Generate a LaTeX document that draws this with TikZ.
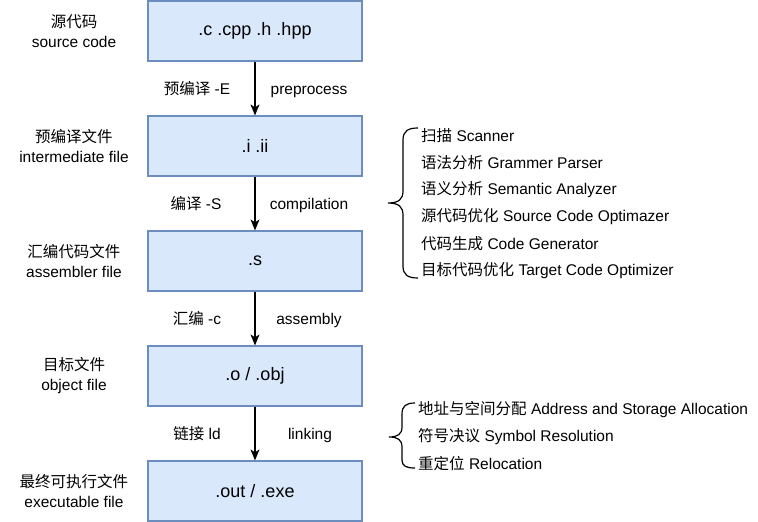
\documentclass[tikz,border=0pt]{standalone}
\usepackage{fontspec}
\setmainfont{Liberation Sans}
\newfontfamily\cjk{Noto Sans CJK SC}
\newcommand{\zh}[1]{{\cjk #1}}
\usetikzlibrary{arrows.meta}
\definecolor{boxfill}{HTML}{DAE8FC}
\definecolor{boxline}{HTML}{6C8EBF}
\begin{document}
\begin{tikzpicture}[x=1pt,y=-1pt,
  box/.style={draw=boxline,fill=boxfill,line width=1.2pt,minimum width=214pt,minimum height=60pt,inner sep=0pt,font=\fontsize{18}{22}\selectfont},
  side/.style={align=center,inner sep=0pt,font=\fontsize{15.5}{20}\selectfont},
  lbl/.style={inner sep=0pt,text height=13.5pt,text depth=2pt,font=\fontsize{15.5}{19}\selectfont},
  item/.style={anchor=west,inner sep=0pt,font=\fontsize{15.5}{19}\selectfont},
  arr/.style={line width=1.2pt,-{Stealth[length=11pt,width=9pt,inset=3pt]}}]
\useasboundingbox (0,0) rectangle (758,522);
\node[box] (src) at (255,31) {.c .cpp .h .hpp};
\node[box] (pre) at (255,146) {.i .ii};
\node[box] (asm) at (255,261) {.s};
\node[box] (obj) at (255,376) {.o / .obj};
\node[box] (exe) at (255,491) {.out / .exe};
\node[side] (srcname) at (74,31) {\zh{源代码}\\source code};
\node[side] (prename) at (74,146) {\zh{预编译文件}\\intermediate file};
\node[side] (asmname) at (74,261) {\zh{汇编代码文件}\\assembler file};
\node[side] (objname) at (74,376) {\zh{目标文件}\\object file};
\node[side] (exename) at (74,491) {\zh{最终可执行文件}\\executable file};
\draw[arr] (src) -- node[lbl,xshift=-58pt] {\zh{预编译} -E} node[lbl,xshift=54pt] {preprocess} (pre);
\draw[arr] (pre) -- node[lbl,xshift=-59pt] {\zh{编译} -S} node[lbl,xshift=54pt] {compilation} (asm);
\draw[arr] (asm) -- node[lbl,xshift=-58pt] {\zh{汇编} -c} node[lbl,xshift=54pt] {assembly} (obj);
\draw[arr] (obj) -- node[lbl,xshift=-58pt] {\zh{链接} ld} node[lbl,xshift=55pt] {linking} (exe);
\node[item] (scan) at (421,136) {\zh{扫描} Scanner};
\node[item] (parse) at (421,163) {\zh{语法分析} Grammer Parser};
\node[item] (sem) at (421,190) {\zh{语义分析} Semantic Analyzer};
\node[item] (srcopt) at (421,217) {\zh{源代码优化} Source Code Optimazer};
\node[item] (gen) at (421,244) {\zh{代码生成} Code Generator};
\node[item] (tgtopt) at (421,271) {\zh{目标代码优化} Target Code Optimizer};
\draw[line width=1.2pt] (418,128) .. controls (408,128) and (403,131) .. (403,140) -- (403,191) .. controls (403,199) and (399,203) .. (388,203) .. controls (399,203) and (403,207) .. (403,215) -- (403,266) .. controls (403,275) and (408,278) .. (418,278);
\node[item] (addr) at (418,410) {\zh{地址与空间分配} Address and Storage Allocation};
\node[item] (sym) at (418,437) {\zh{符号决议} Symbol Resolution};
\node[item] (reloc) at (418,464) {\zh{重定位} Relocation};
\draw[line width=1.2pt] (415,403) .. controls (406,403) and (402,406) .. (402,414) -- (402,427) .. controls (402,434) and (398,437) .. (389,437) .. controls (398,437) and (402,440) .. (402,447) -- (402,460) .. controls (402,466) and (406,468) .. (415,468);
\end{tikzpicture}
\end{document}
